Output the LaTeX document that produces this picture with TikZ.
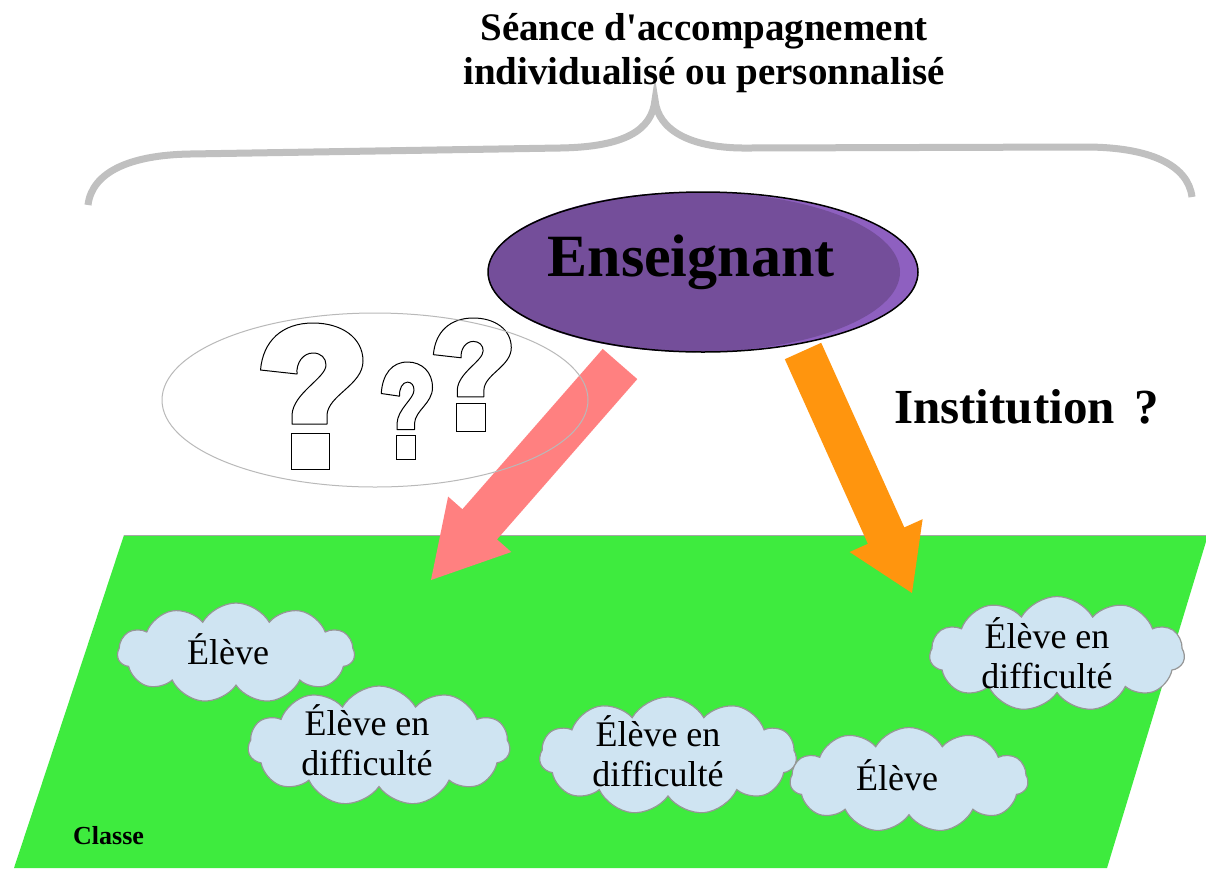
\documentclass[tikz,border=0pt]{standalone}
\usepackage{fontspec}
\setmainfont{Liberation Serif}
\usetikzlibrary{shapes.symbols}
\definecolor{classgreen}{RGB}{62,235,62}
\definecolor{cloudblue}{RGB}{207,228,242}
\definecolor{cloudedge}{RGB}{150,150,150}
\definecolor{purplemain}{RGB}{116,78,154}
\definecolor{purplerim}{RGB}{142,96,192}
\definecolor{pinkarrow}{RGB}{255,128,128}
\definecolor{orangearrow}{RGB}{255,149,14}
\definecolor{bracegray}{RGB}{192,192,192}
\begin{document}
\begin{tikzpicture}[x=1pt,y=-1pt,
  cloudbox/.style={cloud, cloud puffs=11, cloud puff arc=120, cloud ignores aspect,
    fill=cloudblue, draw=cloudedge, line width=1.2pt, inner sep=0pt},
  elevetext/.style={font=\fontsize{36}{40}\selectfont, align=center, inner sep=0pt},
  boldtext/.style={font=\bfseries, inner sep=0pt},
  qmark/.pic={
    \filldraw[fill=white, draw=black, line width=1pt, line join=round]
      (0.5,47) -- (37,51)
      .. controls (36,40) and (43,30) .. (53,30)
      .. controls (61,30) and (66,35) .. (66,42)
      .. controls (66,55) and (33,70) .. (32,92)
      -- (32,101) -- (67,101) -- (67,92)
      .. controls (68,72) and (103,62) .. (103,38)
      .. controls (103,15) and (82,0) .. (53,0)
      .. controls (22,0) and (3,18) .. (0.5,47) -- cycle;
    \filldraw[fill=white, draw=black, line width=1pt] (31,110) rectangle (69,146);
  }]
\useasboundingbox (0,0) rectangle (1206,868);
\fill[white] (0,0) rectangle (1206,868);

% class floor
\begin{scope}
  \clip (0,0) rectangle (1206,868);
  \fill[classgreen] (124,535) -- (1208,535) -- (1107,868) -- (14,868) -- cycle;
  \draw[gray!70, line width=1pt] (124,535) -- (1208,535);
\end{scope}

% brace
\draw[bracegray, line width=7pt]
  (88,205) .. controls (92,172) and (130,155) .. (190,154)
  -- (560,148) .. controls (625,147) and (652,130) .. (655,100)
  .. controls (658,130) and (690,149) .. (750,148)
  -- (1085,147) .. controls (1150,147) and (1188,165) .. (1192,197);

% block arrows
\fill[pinkarrow] (602.7,348.9) -- (637.3,379.1) -- (497.0,539.4) -- (511.3,552.0)
  -- (431,580) -- (448.1,496.6) -- (462.4,509.2) -- cycle;
\fill[orangearrow] (784.8,359.2) -- (821.2,342.8) -- (904.3,527.4) -- (922.6,519.2)
  -- (912,593) -- (849.6,552.0) -- (867.9,543.8) -- cycle;

% teacher ellipse
\fill[purplerim] (703,272) ellipse [x radius=215, y radius=80];
\fill[purplemain] (694,272) ellipse [x radius=206, y radius=80];
\draw[black, line width=1.5pt] (703,272) ellipse [x radius=215, y radius=80];
\node[boldtext, font=\fontsize{60}{66}\selectfont\bfseries, anchor=base] (teacher) at (691,276) {Enseignant};

% question marks
\pic (qa) at (260,323) {qmark};
\pic[xscale=0.5, yscale=0.67] (qb) at (381,362) {qmark};
\pic[xscale=0.76, yscale=0.78] (qc) at (433,318) {qmark};
\draw[gray!55, line width=1pt] (375,400) ellipse [x radius=213, y radius=87];

% clouds
\node[cloudbox, minimum width=237pt, minimum height=100pt] (c1) at (236,653) {};
\node[cloudbox, minimum width=262pt, minimum height=120pt] (c2) at (379,746) {};
\node[cloudbox, minimum width=257pt, minimum height=118pt] (c3) at (668,756) {};
\node[cloudbox, minimum width=238pt, minimum height=105pt] (c4) at (909,780) {};
\node[cloudbox, minimum width=255pt, minimum height=115pt] (c5) at (1057,654) {};
\node[elevetext] (t1) at ([xshift=-8pt, yshift=4pt]c1.center) {Élève};
\node[elevetext] (t2) at ([xshift=-12pt, yshift=6pt]c2.center) {Élève en\\difficulté};
\node[elevetext] (t3) at ([xshift=-10pt, yshift=5pt]c3.center) {Élève en\\difficulté};
\node[elevetext] (t4) at ([xshift=-12pt, yshift=5pt]c4.center) {Élève};
\node[elevetext] (t5) at ([xshift=-10pt, yshift=1pt]c5.center) {Élève en\\difficulté};

% texts
\node[boldtext, font=\fontsize{39}{44}\selectfont\bfseries, align=center, anchor=north] (title) at (704,13)
  {Séance d\textquotesingle accompagnement\\individualisé ou personnalisé};
\node[boldtext, font=\fontsize{49}{52}\selectfont\bfseries, anchor=base west] (inst) at (894,423)
  {Institution\hspace{20pt}?};
\node[boldtext, font=\fontsize{26}{30}\selectfont\bfseries, anchor=base west] (classe) at (73,844) {Classe};
\end{tikzpicture}
\end{document}
